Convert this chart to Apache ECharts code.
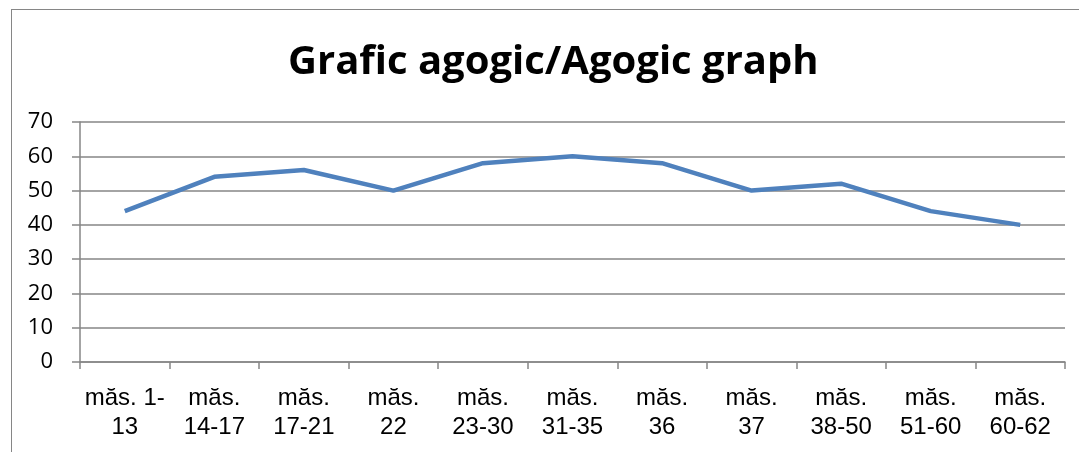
<!DOCTYPE html>
<html>
<head>
<meta charset="utf-8">
<script src="https://cdn.jsdelivr.net/npm/echarts@6/dist/echarts.min.js"></script>
<style>
  html, body { margin: 0; padding: 0; background: #fff; }
  #frame {
    position: absolute; left: 11px; top: 9px;
    width: 1100px; height: 500px;
    border: 1px solid #868686; box-sizing: border-box;
  }
  #main { position: absolute; left: 0; top: 0; width: 1079px; height: 452px; }
</style>
</head>
<body>
<div id="frame"></div>
<div id="main"></div>
<script>
// categorii (măsuri)
const categories = [
  'măs. 1-\n13', 'măs.\n14-17', 'măs.\n17-21', 'măs.\n22', 'măs.\n23-30',
  'măs.\n31-35', 'măs.\n36', 'măs.\n37', 'măs.\n38-50', 'măs.\n51-60', 'măs.\n60-62'
];
// tempo
const tempo = [44, 54, 56, 50, 58, 60, 58, 50, 52, 44, 40];
const yTicks = { min: 0, max: 70, interval: 10 };

const myChart = echarts.init(document.getElementById('main'));
myChart.setOption({
  animation: false,
  title: {
    text: 'Grafic agogic/Agogic graph',
    left: 283,
    top: 38,
    textStyle: { fontFamily: 'Open Sans', fontWeight: 'bold', fontSize: 40, color: '#000' }
  },
  grid: { left: 80, right: 14, top: 122, bottom: 90 },
  xAxis: {
    type: 'category',
    data: categories,
    boundaryGap: true,
    axisLine: { lineStyle: { color: '#868686', width: 1.5 } },
    axisTick: { show: true, length: 7, lineStyle: { color: '#868686', width: 1.5 } },
    axisLabel: {
      color: '#000', fontFamily: 'Liberation Sans', fontSize: 24,
      lineHeight: 29, margin: 22, interval: 0
    }
  },
  yAxis: {
    type: 'value',
    min: yTicks.min, max: yTicks.max, interval: yTicks.interval,
    axisLine: { show: true, lineStyle: { color: '#868686', width: 1.5 } },
    axisTick: { show: true, length: 8, lineStyle: { color: '#868686', width: 1.5 } },
    axisLabel: { color: '#000', fontFamily: 'Open Sans', fontSize: 22, margin: 27 },
    splitLine: { lineStyle: { color: '#868686', width: 1.5 } }
  },
  series: [{
    type: 'line',
    data: tempo,
    symbol: 'none',
    lineStyle: { color: '#4F81BD', width: 4.5 }
  }]
});
</script>
</body>
</html>
